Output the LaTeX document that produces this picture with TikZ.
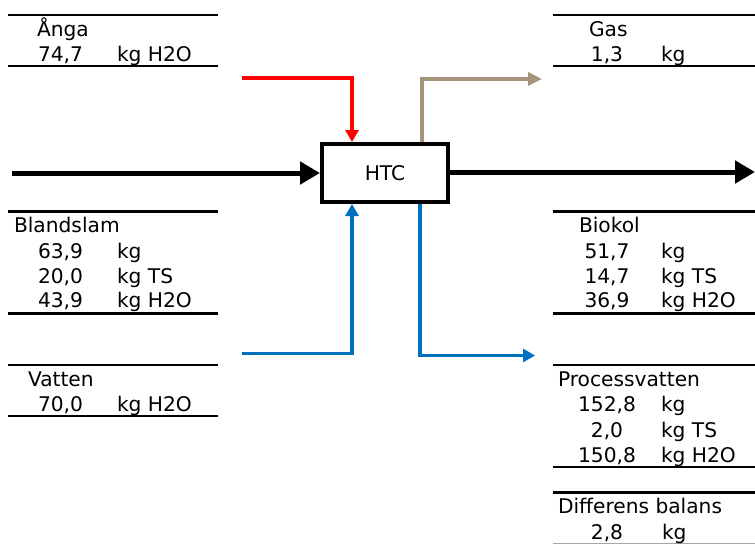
\documentclass[tikz,border=0pt]{standalone}
\usepackage{fontspec}
\setmainfont{DejaVu Sans}
\usetikzlibrary{arrows.meta}
\definecolor{flowred}{HTML}{FF0000}
\definecolor{flowblue}{HTML}{0070C0}
\definecolor{flowtan}{HTML}{A6937B}
\begin{document}
\begin{tikzpicture}[x=1pt,y=-1pt,
  txt/.style={inner sep=0pt, outer sep=0pt, font=\fontsize{20.2}{22}\selectfont},
  lbl/.style={txt, anchor=base west},
  numl/.style={txt, anchor=base east},
  numr/.style={txt, anchor=base},
  sepline/.style={line width=2.6pt},
  mainflow/.style={line width=5pt, -{Triangle[length=20pt,width=22pt]}},
  redflow/.style={draw=flowred, line width=3.6pt, -{Triangle[length=12pt,width=13pt]}},
  blueflow/.style={draw=flowblue, line width=3.6pt, -{Triangle[length=12pt,width=13pt]}},
  tanflow/.style={draw=flowtan, line width=4.3pt, -{Triangle[length=14pt,width=13pt]}},
  procbox/.style={draw, line width=4pt, minimum width=126pt, minimum height=58pt, inner sep=0pt, font=\fontsize{20.2}{22}\selectfont}
]
\useasboundingbox (0,0) rectangle (755,544);
\fill[white] (0,0) rectangle (755,544);

% separator lines, left column
\draw[sepline] (8,15) -- (218,15);
\draw[sepline] (8,66) -- (218,66);
\draw[sepline] (8,211.5) -- (218,211.5);
\draw[sepline] (8,313.5) -- (218,313.5);
\draw[sepline] (8,365) -- (218,365);
\draw[sepline] (8,416) -- (218,416);
% separator lines, right column
\draw[sepline] (553,15) -- (755,15);
\draw[sepline] (553,66) -- (755,66);
\draw[sepline] (553,211.5) -- (755,211.5);
\draw[sepline] (553,313.5) -- (755,313.5);
\draw[sepline] (553,365) -- (755,365);
\draw[sepline] (553,467) -- (755,467);
\draw[sepline] (553,492.5) -- (755,492.5);
\draw[line width=1pt, black!35] (553,543.5) -- (755,543.5);

% Ånga
\node[lbl] (anga) at (37,36) {Ånga};
\node[numl] (angav) at (83,61.5) {74,7};
\node[lbl] (angau) at (117,61.5) {kg H2O};
% Blandslam
\node[lbl] (bland) at (14,232) {Blandslam};
\node[numl] (blandv1) at (83,258) {63,9};
\node[lbl] (blandu1) at (117,258) {kg};
\node[numl] (blandv2) at (83,283) {20,0};
\node[lbl] (blandu2) at (117,283) {kg TS};
\node[numl] (blandv3) at (83,307.5) {43,9};
\node[lbl] (blandu3) at (117,307.5) {kg H2O};
% Vatten
\node[lbl] (vatten) at (28,386) {Vatten};
\node[numl] (vattenv) at (83,411.5) {70,0};
\node[lbl] (vattenu) at (117,411.5) {kg H2O};

% Gas
\node[lbl] (gas) at (589,36) {Gas};
\node[numr] (gasv) at (607,61.5) {1,3};
\node[lbl] (gasu) at (661,61.5) {kg};
% Biokol
\node[lbl] (biokol) at (579,232) {Biokol};
\node[numr] (biov1) at (607,258) {51,7};
\node[lbl] (biou1) at (661,258) {kg};
\node[numr] (biov2) at (607,283) {14,7};
\node[lbl] (biou2) at (661,283) {kg TS};
\node[numr] (biov3) at (607,307.5) {36,9};
\node[lbl] (biou3) at (661,307.5) {kg H2O};
% Processvatten
\node[lbl] (proc) at (558,386) {Processvatten};
\node[numr] (procv1) at (607,411.5) {152,8};
\node[lbl] (procu1) at (661,411.5) {kg};
\node[numr] (procv2) at (607,437) {2,0};
\node[lbl] (procu2) at (661,437) {kg TS};
\node[numr] (procv3) at (607,462.5) {150,8};
\node[lbl] (procu3) at (661,462.5) {kg H2O};
% Differens balans
\node[lbl] (diff) at (558,513.5) {Differens balans};
\node[numr] (diffv) at (607,539) {2,8};
\node[lbl] (diffu) at (662,539) {kg};

% process box
\node[procbox] (htc) at (385,173) {HTC};

% flows
\coordinate (inmain) at (12,173);
\coordinate (outmain) at (755,172);
\draw[mainflow] (inmain) -- (htc.west);
\draw[mainflow] (htc.east |- outmain) -- (outmain);

\coordinate (redstart) at (242,78);
\coordinate (redcorner) at (352,78);
\draw[redflow] (redstart) -- (redcorner) -- (redcorner |- htc.north);

\coordinate (tancorner) at (422,79);
\coordinate (tanend) at (542,79);
\draw[tanflow] (tancorner |- htc.north) -- (tancorner) -- (tanend);

\coordinate (bluestart) at (242,353.5);
\coordinate (bluecorner) at (352,353.5);
\draw[blueflow] (bluestart) -- (bluecorner) -- (bluecorner |- htc.south);

\coordinate (pwcorner) at (420,355.5);
\coordinate (pwend) at (535,355.5);
\draw[blueflow] (pwcorner |- htc.south) -- (pwcorner) -- (pwend);
\end{tikzpicture}
\end{document}
